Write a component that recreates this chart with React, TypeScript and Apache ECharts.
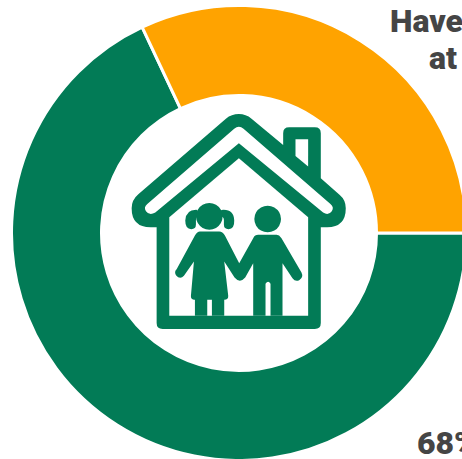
import React, { useEffect, useRef } from "react";
import * as echarts from "echarts";

const segmentNames = ["Yes", "No"];
const segmentValues = [68, 32];
const segmentColors = ["#027B56", "#FFA300"];
const headingLines = ["Have", "at"];

const GREEN = segmentColors[0];
const TEXT = "#454545";
const FONT = "Roboto, sans-serif";

// Icon outlines, drawn on a 720-unit grid and scaled down to the donut's hole.
const HOUSE =
  "M357 42Q335 42 318 56L55 283Q35 300 35 325Q35 382 92 382L110 382L110 670Q110 688 128 688L585 688Q603 688 603 670L603 382L622 382Q678 382 678 325Q678 300 660 285L603 235L603 100Q603 82 585 82L508 82Q490 82 490 100L490 135L395 56Q378 42 357 42Z";
const ROOF_SLOT =
  "M357 80Q350 80 343 86L82 312Q70 322 78 334Q88 348 106 338L357 130L610 338Q626 348 636 334Q644 322 632 312L371 86Q364 80 357 80Z";
const CHIMNEY_HOLE = "M527 118L565 118L565 200L527 168Z";
const ROOM = "M357 175L148 352L148 648L565 648L565 352Z";
const FIGURES =
  "M240 395L298 395Q308 395 315 407L358 490L400 415Q405 405 415 405L470 405Q478 405 485 415L545 518Q552 532 538 541Q526 546 518 535L488 490L488 648L452 648L452 552Q445 540 437 552L437 648L400 648L400 490L376 533Q360 552 344 533L313 485L325 588Q326 600 313 600L313 648L276 648L276 600L262 600L262 648L225 648L225 600L222 600Q212 598 213 588L222 485L192 528Q180 540 168 526Q162 516 170 508L225 407Q232 395 240 395Z";
const PIGTAILS =
  "M232 330Q198 328 196 362Q196 388 214 388Q228 388 228 374L228 360Q228 350 238 348ZM304 330Q342 326 343 362Q344 388 326 388Q312 388 312 374L312 360Q312 350 300 348Z";

echarts.graphic.registerShape("house", echarts.graphic.extendPath(HOUSE, {}));
echarts.graphic.registerShape("roofSlot", echarts.graphic.extendPath(ROOF_SLOT, {}));
echarts.graphic.registerShape("chimneyHole", echarts.graphic.extendPath(CHIMNEY_HOLE, {}));
echarts.graphic.registerShape("room", echarts.graphic.extendPath(ROOM, {}));
echarts.graphic.registerShape("figures", echarts.graphic.extendPath(FIGURES, {}));
echarts.graphic.registerShape("pigtails", echarts.graphic.extendPath(PIGTAILS, {}));

const ICON_SCALE = 1 / 3;
const layer = (type: string, fill: string) => ({
  type,
  x: 120,
  y: 100,
  scaleX: ICON_SCALE,
  scaleY: ICON_SCALE,
  style: { fill },
});

export default function App() {
  const ref = useRef<HTMLDivElement>(null);

  useEffect(() => {
    const chart = echarts.init(ref.current!, null, { renderer: "svg" });
    const label = (text: string, x: number, y: number) => ({
      type: "text",
      x,
      y,
      style: { text, fill: TEXT, font: `900 32px ${FONT}` },
    });
    chart.setOption({
      animation: false,
      backgroundColor: "#fff",
      series: [
        {
          type: "pie",
          center: [239, 233],
          radius: [137.5, 227.5],
          startAngle: 0,
          clockwise: true,
          silent: true,
          label: { show: false },
          labelLine: { show: false },
          itemStyle: { borderColor: "#fff", borderWidth: 3 },
          data: segmentValues.map((value, i) => ({
            value,
            name: segmentNames[i],
            itemStyle: { color: segmentColors[i] },
          })),
        },
      ],
      graphic: [
        layer("house", GREEN),
        layer("roofSlot", "#fff"),
        layer("chimneyHole", "#fff"),
        layer("room", "#fff"),
        layer("pigtails", GREEN),
        { type: "circle", shape: { cx: 120 + 268 / 3, cy: 100 + 349 / 3, r: 40 / 3 }, style: { fill: GREEN } },
        { type: "circle", shape: { cx: 120 + 443 / 3, cy: 100 + 357 / 3, r: 40 / 3 }, style: { fill: GREEN } },
        layer("figures", GREEN),
        label(headingLines[0], 390, 5),
        label(headingLines[1], 429, 42),
        label(`${segmentValues[0]}%`, 417, 427),
      ],
    });
    return () => chart.dispose();
  }, []);

  return (
    <div
      ref={ref}
      style={{ position: "absolute", left: 0, top: 0, width: 462, height: 459, overflow: "hidden" }}
    />
  );
}
